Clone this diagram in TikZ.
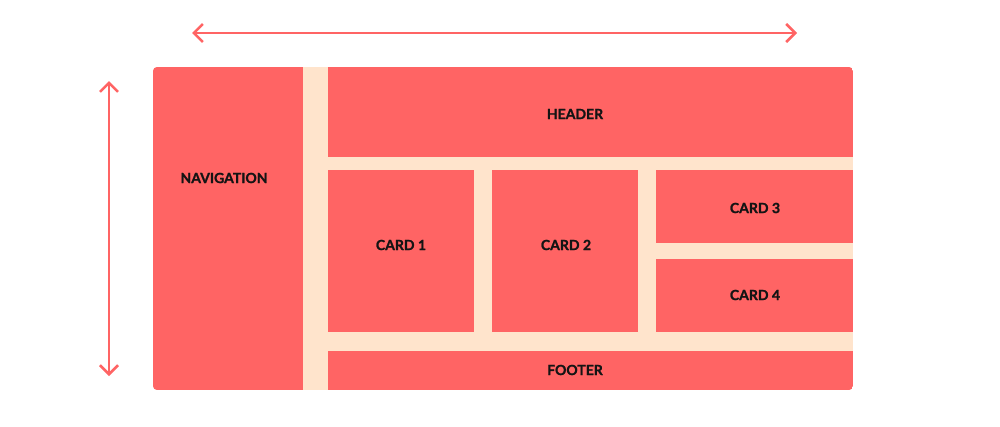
\documentclass[tikz,border=0pt]{standalone}
\usepackage{fontspec}
\setmainfont{Lato}
\newfontfamily\blocklabelfont[BoldFeatures={FakeBold=1.2}]{Lato}
\usetikzlibrary{arrows.meta}
\definecolor{blockred}{HTML}{FF6464}
\definecolor{gappeach}{HTML}{FFE4CC}
\definecolor{labelink}{HTML}{141414}
\tikzset{
  label text/.style={text=labelink, font=\blocklabelfont\bfseries\fontsize{14}{16}\selectfont, inner sep=0pt},
  span arrow/.style={draw=blockred, line width=2.5pt, {Straight Barb[length=9pt,width=18pt]}-{Straight Barb[length=9pt,width=18pt]}}
}
\begin{document}
\begin{tikzpicture}[x=1pt,y=-1pt]
      \useasboundingbox (0,0) rectangle (1000,426);
      % page frame with gaps
      \begin{scope}
      \clip[rounded corners=4pt] (153,67) rectangle (853,390);
      \fill[gappeach] (153,67) rectangle (853,390);
      \fill[blockred] (153,67) rectangle (303,390);
      \fill[blockred] (328,67) rectangle (853,157);
      \fill[blockred] (328,170) rectangle (474,332);
      \fill[blockred] (492,170) rectangle (638,332);
      \fill[blockred] (656,170) rectangle (853,243);
      \fill[blockred] (656,259) rectangle (853,332);
      \fill[blockred] (328,351) rectangle (853,390);
      \end{scope}
      % labels
      \node[label text] (nav) at (224,178) {NAVIGATION};
      \node[label text] (header) at (575,114) {HEADER};
      \node[label text] (card1) at (401,245) {CARD 1};
      \node[label text] (card2) at (566,245) {CARD 2};
      \node[label text] (card3) at (755,208) {CARD 3};
      \node[label text] (card4) at (755,295) {CARD 4};
      \node[label text] (footer) at (575,370) {FOOTER};
      % width and height arrows
      \coordinate (wl) at (192,33);
      \coordinate (wr) at (797,33);
      \coordinate (ht) at (109,81);
      \coordinate (hb) at (109,376);
      \draw[span arrow] (wl) -- (wr);
      \draw[span arrow] (ht) -- (hb);
     \end{tikzpicture}
\end{document}
